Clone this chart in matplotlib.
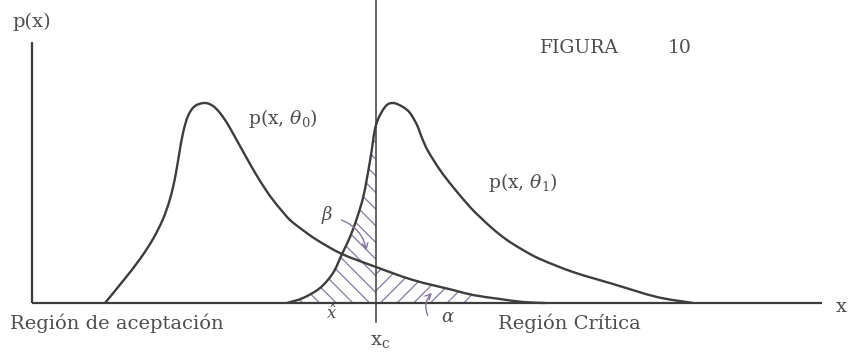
import matplotlib.pyplot as plt
import numpy as np
from matplotlib.path import Path
from matplotlib.patches import PathPatch

plt.rcParams['font.family'] = ['DejaVu Serif']
plt.rcParams['mathtext.fontset'] = 'dejavuserif'
plt.rcParams['hatch.linewidth'] = 0.9

# density under H0: p(x, theta0)
x0 = np.array([105, 123, 140, 153, 163, 170, 175, 179, 183, 188, 195, 205,
               213, 220, 227, 235, 245, 257, 270, 282, 290, 300, 317, 342,
               376, 413, 453, 473, 500, 523, 545])
p0 = np.array([0, 22, 44, 64, 84, 104, 125, 148, 170, 187, 197, 200,
               197, 190, 180, 166, 148, 127, 107, 92, 83, 75, 63, 49,
               36, 23, 13, 8, 4, 1, 0])

# density under H1: p(x, theta1)
x1 = np.array([287, 303, 320, 333, 342, 350, 357, 363, 367, 371, 376, 385,
               393, 403, 410, 417, 422, 428, 440, 453, 470, 480, 493, 507,
               523, 540, 573, 613, 657, 693])
p1 = np.array([0, 5, 15, 30, 49, 66, 85, 105, 125, 148, 178, 196,
               200, 196, 190, 178, 165, 152, 133, 116, 96, 86, 74, 63,
               53, 44, 31, 19, 6, 0])

xc = 376          # critical value
alpha_end = 480   # right end of the alpha shading

ink = '#3d3d3d'
text_c = '#4e4e4e'
pen = '#85789a'


def bezier_segments(x, y):
    # smooth cubic pieces through the sampled points (Catmull-Rom tangents)
    pts = np.column_stack([x, y]).astype(float)
    tang = np.zeros_like(pts)
    tang[1:-1] = (pts[2:] - pts[:-2]) / 2
    tang[0] = pts[1] - pts[0]
    tang[-1] = pts[-1] - pts[-2]
    return [(pts[i], pts[i] + tang[i] / 3, pts[i + 1] - tang[i + 1] / 3, pts[i + 1])
            for i in range(len(pts) - 1)]


def curve_path(segs, i0, i1, closed=False):
    verts = [segs[i0][0]]
    codes = [Path.MOVETO]
    for s in segs[i0:i1]:
        verts += [s[1], s[2], s[3]]
        codes += [Path.CURVE4] * 3
    if closed:
        verts += [(segs[i1 - 1][3][0], 0), (segs[i0][0][0], 0), (0, 0)]
        codes += [Path.LINETO, Path.LINETO, Path.CLOSEPOLY]
    return Path(verts, codes)


fig = plt.figure(figsize=(8.53, 3.53), dpi=100)
ax = fig.add_axes([0, 0, 1, 1])
ax.set_xlim(0, 853)
ax.set_ylim(-50, 303)
ax.axis('off')

seg0 = bezier_segments(x0, p0)
seg1 = bezier_segments(x1, p1)

# shaded error areas: beta under H1 left of xc, alpha under H0 right of xc
b_idx = np.where(x1 <= xc)[0]
ax.add_patch(PathPatch(curve_path(seg1, b_idx[0], b_idx[-1], closed=True),
                       facecolor='none', edgecolor=pen, hatch='\\\\', lw=0))
a_idx = np.where((x0 >= xc) & (x0 <= alpha_end))[0]
ax.add_patch(PathPatch(curve_path(seg0, a_idx[0], a_idx[-1], closed=True),
                       facecolor='none', edgecolor=pen, hatch='//', lw=0))

# axes of the sketch
ax.plot([32, 32], [0, 261], color=ink, lw=1.6, solid_capstyle='butt')
ax.plot([32, 822], [0, 0], color=ink, lw=1.6, solid_capstyle='butt')
ax.plot([xc, xc], [-19, 303], color=ink, lw=1.1)

# the two curves
for segs in (seg0, seg1):
    ax.add_patch(PathPatch(curve_path(segs, 0, len(segs)), facecolor='none',
                           edgecolor=ink, lw=1.7, joinstyle='round'))

# labels
ax.text(12, 281, 'p(x)', fontsize=14, color=text_c, va='center', ha='left')
ax.text(540, 255, 'FIGURA', fontsize=13.5, color=text_c, va='center', ha='left')
ax.text(668, 255, '10', fontsize=13.5, color=text_c, va='center', ha='left')
ax.text(248, 184, r'p(x, $\theta_0$)', fontsize=13.5, color=text_c,
        va='center', ha='left')
ax.text(488, 120, r'p(x, $\theta_1$)', fontsize=13.5, color=text_c,
        va='center', ha='left')
ax.text(10, -20, 'Región de aceptación', fontsize=14, color=text_c,
        va='center', ha='left')
ax.text(498, -20, 'Región Crítica', fontsize=14, color=text_c,
        va='center', ha='left')
ax.text(836, -4, 'x', fontsize=14, color=text_c, va='center', ha='left')
ax.text(xc + 4, -38, r'x$_\mathregular{c}$', fontsize=14, color=text_c,
        va='center', ha='center')

# hand-written marks
ax.text(327, 88, r'$\beta$', fontsize=13, color=text_c, va='center', ha='center')
ax.annotate('', xy=(367, 50), xytext=(339, 84),
            arrowprops=dict(arrowstyle='->', color=pen, lw=1.0,
                            connectionstyle='arc3,rad=-0.3'))
ax.text(332, -11, r'$\hat{x}$', fontsize=12, color=text_c, va='center', ha='center')
ax.annotate('', xy=(434, 12), xytext=(429, -15),
            arrowprops=dict(arrowstyle='->', color=pen, lw=1.0,
                            connectionstyle='arc3,rad=-0.4'))
ax.text(448, -14, r'$\alpha$', fontsize=13, color=text_c, va='center', ha='center')

fig.savefig('out.png', dpi=100, facecolor='white')
